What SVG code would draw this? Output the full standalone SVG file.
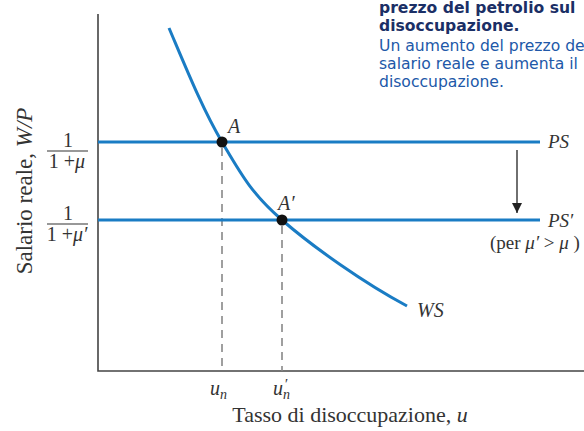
<svg xmlns="http://www.w3.org/2000/svg" width="584" height="431" viewBox="0 0 584 431">
<style>
.ax{stroke:#444;stroke-width:1.6;fill:none}
.bl{stroke:#1a7cc4;stroke-width:3;fill:none}
.ds{stroke:#888;stroke-width:1.6;stroke-dasharray:8,6;fill:none}
.t{font-family:"Liberation Serif",serif;font-size:20px;fill:#333}
.i{font-style:italic}
.h{font-family:"DejaVu Sans",Verdana,sans-serif;font-size:15.6px}
</style>
<defs>
<marker id="ah" markerWidth="10" markerHeight="10" refX="10" refY="5" orient="auto" markerUnits="userSpaceOnUse" viewBox="0 0 10 10">
<path d="M0,0 L10,5 L0,10 Z" fill="#222"/>
</marker>
</defs>
<rect width="584" height="431" fill="#fff"/>
<g id="caption">
<text class="h" x="379" y="13" font-weight="bold" fill="#1b2f66">prezzo del petrolio sul</text>
<text class="h" x="379" y="31" font-weight="bold" fill="#1b2f66">disoccupazione.</text>
<text class="h" x="379" y="51" fill="#2158a8">Un aumento del prezzo de</text>
<text class="h" x="379" y="69" fill="#2158a8">salario reale e aumenta il</text>
<text class="h" x="379" y="87" fill="#2158a8">disoccupazione.</text>
</g>
<g id="axes">
<path class="ax" d="M98,14 V371 H584"/>
<text class="t" style="font-size:23px" transform="translate(32,191) rotate(-90)" text-anchor="middle">Salario reale, <tspan class="i">W/P</tspan></text>
<text class="t" style="font-size:22px" x="350" y="422" text-anchor="middle">Tasso di disoccupazione, <tspan class="i">u</tspan></text>
<text class="t i" x="210" y="395">u<tspan style="font-size:14px" dy="4">n</tspan></text>
<text class="t i" x="273" y="395">u<tspan style="font-size:14px" dy="4">n</tspan></text>
<text class="t i" style="font-size:15px" x="284" y="389">′</text>
</g>
<g id="frac1">
<text class="t" x="68" y="147" text-anchor="middle">1</text>
<line x1="47" y1="151" x2="88" y2="151" stroke="#333" stroke-width="1.2"/>
<text class="t" x="67" y="168" text-anchor="middle">1 +<tspan class="i">μ</tspan></text>
</g>
<g id="frac2">
<text class="t" x="68" y="220" text-anchor="middle">1</text>
<line x1="47" y1="224" x2="88" y2="224" stroke="#333" stroke-width="1.2"/>
<text class="t" x="67" y="241" text-anchor="middle">1 +<tspan class="i">μ′</tspan></text>
</g>
<g id="connectors">
<line class="ds" x1="222" y1="148" x2="222" y2="371"/>
<line class="ds" x1="282" y1="226" x2="282" y2="371"/>
<line x1="517" y1="150" x2="517" y2="213" stroke="#222" stroke-width="1.3" marker-end="url(#ah)"/>
</g>
<g id="PS">
<line class="bl" x1="98" y1="142" x2="540" y2="142"/>
<text class="t i" style="font-size:19px" x="548" y="148">PS</text>
</g>
<g id="PS2">
<line class="bl" x1="98" y1="220" x2="540" y2="220"/>
<text class="t i" style="font-size:19px" x="548" y="227">PS′</text>
<text class="t" style="font-size:19px" x="490" y="249">(per <tspan class="i">μ′</tspan> &gt; <tspan class="i">μ</tspan> )</text>
</g>
<g id="WS">
<path class="bl" d="M169,28 C186,68 203,110 222,142 C241,174 251,193 282,220 C313,247 364,283 407,306"/>
<text class="t i" x="417" y="317">WS</text>
</g>
<g id="A">
<circle cx="222" cy="142" r="5.5" fill="#111"/>
<text class="t i" x="228" y="133">A</text>
</g>
<g id="A2">
<circle cx="282" cy="220" r="5.5" fill="#111"/>
<text class="t i" x="278" y="210">A′</text>
</g>
</svg>
